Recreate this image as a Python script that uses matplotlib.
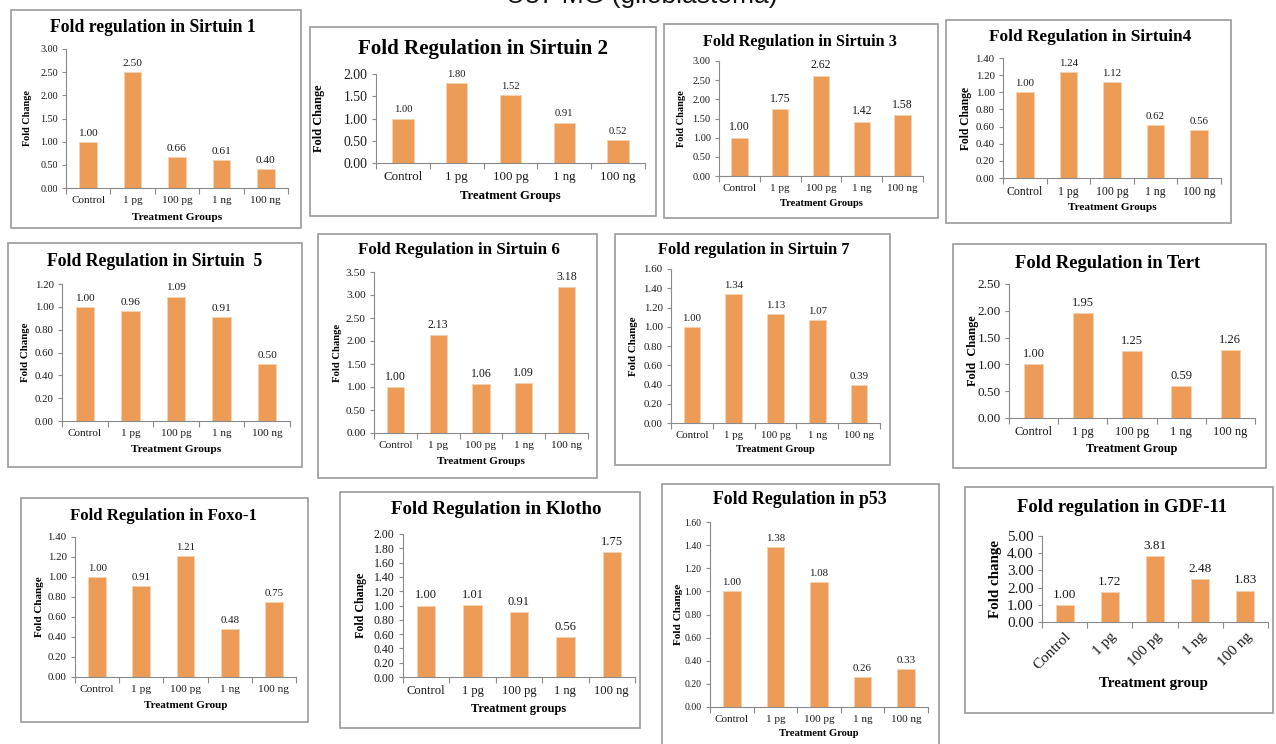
import numpy as np
import matplotlib.pyplot as plt
from matplotlib.patches import Rectangle

W, H = 1276, 744

groups = ['Control', '1 pg', '100 pg', '1 ng', '100 ng']

sirt1 = [1.00, 2.50, 0.66, 0.61, 0.40]
sirt2 = [1.00, 1.80, 1.52, 0.91, 0.52]
sirt3 = [1.00, 1.75, 2.62, 1.42, 1.58]
sirt4 = [1.00, 1.24, 1.12, 0.62, 0.56]
sirt5 = [1.00, 0.96, 1.09, 0.91, 0.50]
sirt6 = [1.00, 2.13, 1.06, 1.09, 3.18]
sirt7 = [1.00, 1.34, 1.13, 1.07, 0.39]
tert = [1.00, 1.95, 1.25, 0.59, 1.26]
foxo1 = [1.00, 0.91, 1.21, 0.48, 0.75]
klotho = [1.00, 1.01, 0.91, 0.56, 1.75]
p53 = [1.00, 1.38, 1.08, 0.26, 0.33]
gdf11 = [1.00, 1.72, 3.81, 2.48, 1.83]

titles = ['Fold regulation in Sirtuin 1', 'Fold Regulation in Sirtuin 2',
          'Fold Regulation in Sirtuin 3', 'Fold Regulation in Sirtuin4',
          'Fold Regulation in Sirtuin  5', 'Fold Regulation in Sirtuin 6',
          'Fold regulation in Sirtuin 7', 'Fold Regulation in Tert',
          'Fold Regulation in Foxo-1', 'Fold Regulation in Klotho',
          'Fold Regulation in p53', 'Fold regulation in GDF-11']
ylabels = ['Fold Change'] * 7 + ['Fold  Change'] + ['Fold Change'] * 3 + ['Fold change']
xlabels = ['Treatment Groups'] * 6 + ['Treatment Group'] * 3 + \
          ['Treatment groups', 'Treatment Group', 'Treatment group']
values = [sirt1, sirt2, sirt3, sirt4, sirt5, sirt6, sirt7, tert,
          foxo1, klotho, p53, gdf11]
ymaxes = [3.0, 2.0, 3.0, 1.4, 1.2, 3.5, 1.6, 2.5, 1.4, 2.0, 1.6, 5.0]
ysteps = [0.5, 0.5, 0.5, 0.2, 0.2, 0.5, 0.2, 0.5, 0.2, 0.2, 0.2, 1.0]

# pixel layout: box (x0, y0, x1, y1), axes (left, top, right, bottom),
# title (cx, cy, size), ylabel (x, size), xlabel (y, size), tick sizes, value size
layout = [
    dict(box=(11, 10, 301, 228), ax=(66, 49, 288, 188), title=(153, 28, 12.7),
         yl=(28, 7.3), xl=(217, 8.2), xt=8, yt=7.3, val=8.2),
    dict(box=(310, 27, 656, 216), ax=(376, 74, 645, 163), title=(483, 49, 15.1),
         yl=(319, 8.8), xl=(196, 9.2), xt=9.4, yt=9.9, val=7.6),
    dict(box=(664, 24, 938, 218), ax=(719, 61, 923, 176), title=(800, 42, 11.7),
         yl=(682, 7.5), xl=(203, 7.6), xt=8, yt=7.5, val=8.5),
    dict(box=(946, 20, 1231, 223), ax=(1003, 58, 1221, 178), title=(1090, 37, 12.4),
         yl=(966, 8.3), xl=(207, 8.1), xt=8.5, yt=7.8, val=7.8),
    dict(box=(8, 243, 302, 467), ax=(62, 284, 290, 421), title=(155, 261, 12.7),
         yl=(25, 7.8), xl=(449, 8.2), xt=8, yt=7.8, val=8.2),
    dict(box=(318, 234, 597, 478), ax=(374, 272, 588, 433), title=(459, 250, 12.2),
         yl=(338, 7.7), xl=(462, 8), xt=8.2, yt=8.2, val=8.6),
    dict(box=(615, 234, 890, 465), ax=(671, 269, 880, 423), title=(754, 250, 11.8),
         yl=(634, 7.8), xl=(450, 7.6), xt=7.8, yt=7.8, val=7.8),
    dict(box=(953, 244, 1266, 468), ax=(1009, 284, 1255, 418), title=(1108, 263, 13.3),
         yl=(973, 8.8), xl=(449, 8.7), xt=8.9, yt=9.5, val=9),
    dict(box=(21, 498, 308, 722), ax=(75, 537, 296, 677), title=(163, 516, 12.1),
         yl=(39, 8), xl=(705, 8), xt=8.2, yt=7.8, val=7.8),
    dict(box=(340, 492, 640, 728), ax=(403, 534, 635, 677), title=(496, 510, 13.6),
         yl=(361, 8.6), xl=(709, 8.9), xt=9.1, yt=8.6, val=9),
    dict(box=(662, 484, 939, 760), ax=(710, 522, 928, 707), title=(800, 500, 12.8),
         yl=(678, 8.1), xl=(734, 7.7), xt=8, yt=7, val=7.8),
    dict(box=(965, 487, 1273, 713), ax=(1042, 536, 1268, 622), title=(1122, 508, 13.4),
         yl=(995, 10.8), xl=(683, 10.8), xt=11, yt=11, val=9.5),
]

bar_color = '#EC9C57'
axis_gray = '#8a8a8a'
serif = 'Liberation Serif'


def fx(x):
    return x / W


def fy(y):
    return 1 - y / H


fig = plt.figure(figsize=(W / 100, H / 100), dpi=100)
fig.patch.set_facecolor('white')

# heading at the very top, mostly cut off by the page edge
fig.text(fx(642), fy(3), 'U87 MG (glioblastoma)', ha='center', va='baseline',
         fontsize=19, family='Liberation Sans', color='#111111')

for i, lay in enumerate(layout):
    x0, y0, x1, y1 = lay['box']
    fig.patches.append(Rectangle((fx(x0), fy(y1)), (x1 - x0) / W, (y1 - y0) / H,
                                 transform=fig.transFigure, fill=False,
                                 edgecolor='#9a9a9a', linewidth=1.2, zorder=0))

    l, t, r, b = lay['ax']
    ax = fig.add_axes([fx(l), fy(b), (r - l) / W, (b - t) / H])
    ax.patch.set_alpha(0)
    x = np.arange(len(groups))
    vals = values[i]
    ax.bar(x, vals, width=0.4, color=bar_color, edgecolor='#f6d2b0', linewidth=0.6)
    for xi, v in zip(x, vals):
        ax.annotate(f'{v:.2f}', (xi, v), xytext=(0, 3), textcoords='offset points',
                    ha='center', va='bottom', fontsize=lay['val'], family=serif,
                    color='#1a1a1a')

    ax.set_xlim(-0.5, len(groups) - 0.5)
    ax.set_ylim(0, ymaxes[i])
    yt = np.arange(0, ymaxes[i] + ysteps[i] / 2, ysteps[i])
    ax.set_yticks(yt)
    ax.set_yticklabels([f'{v:.2f}' for v in yt], fontsize=lay['yt'], family=serif,
                       color='#1a1a1a')
    ax.set_xticks(x)
    ax.set_xticks(np.arange(-0.5, len(groups), 1), minor=True)
    if i == 11:
        ax.set_xticklabels(groups, fontsize=lay['xt'], family=serif, color='#1a1a1a',
                           rotation=45, ha='right', rotation_mode='anchor')
    else:
        ax.set_xticklabels(groups, fontsize=lay['xt'], family=serif, color='#1a1a1a')
    ax.tick_params(axis='x', which='major', length=0, pad=6)
    ax.tick_params(axis='x', which='minor', length=4, color=axis_gray, width=0.8)
    ax.tick_params(axis='y', length=3, color=axis_gray, width=0.8, pad=3)
    for side in ['top', 'right']:
        ax.spines[side].set_visible(False)
    for side in ['left', 'bottom']:
        ax.spines[side].set_color(axis_gray)
        ax.spines[side].set_linewidth(0.8)

    cx, cy, ts = lay['title']
    fig.text(fx(cx), fy(cy), titles[i], ha='center', va='center', fontsize=ts,
             weight='bold', family=serif)
    ylx, yls = lay['yl']
    fig.text(fx(ylx), fy((t + b) / 2), ylabels[i], rotation=90, ha='center',
             va='center', fontsize=yls, weight='bold', family=serif)
    xly, xls = lay['xl']
    xlx = 1153 if i == 11 else (l + r) / 2
    fig.text(fx(xlx), fy(xly), xlabels[i], ha='center', va='center', fontsize=xls,
             weight='bold', family=serif)

fig.savefig('out.png', dpi=100)
